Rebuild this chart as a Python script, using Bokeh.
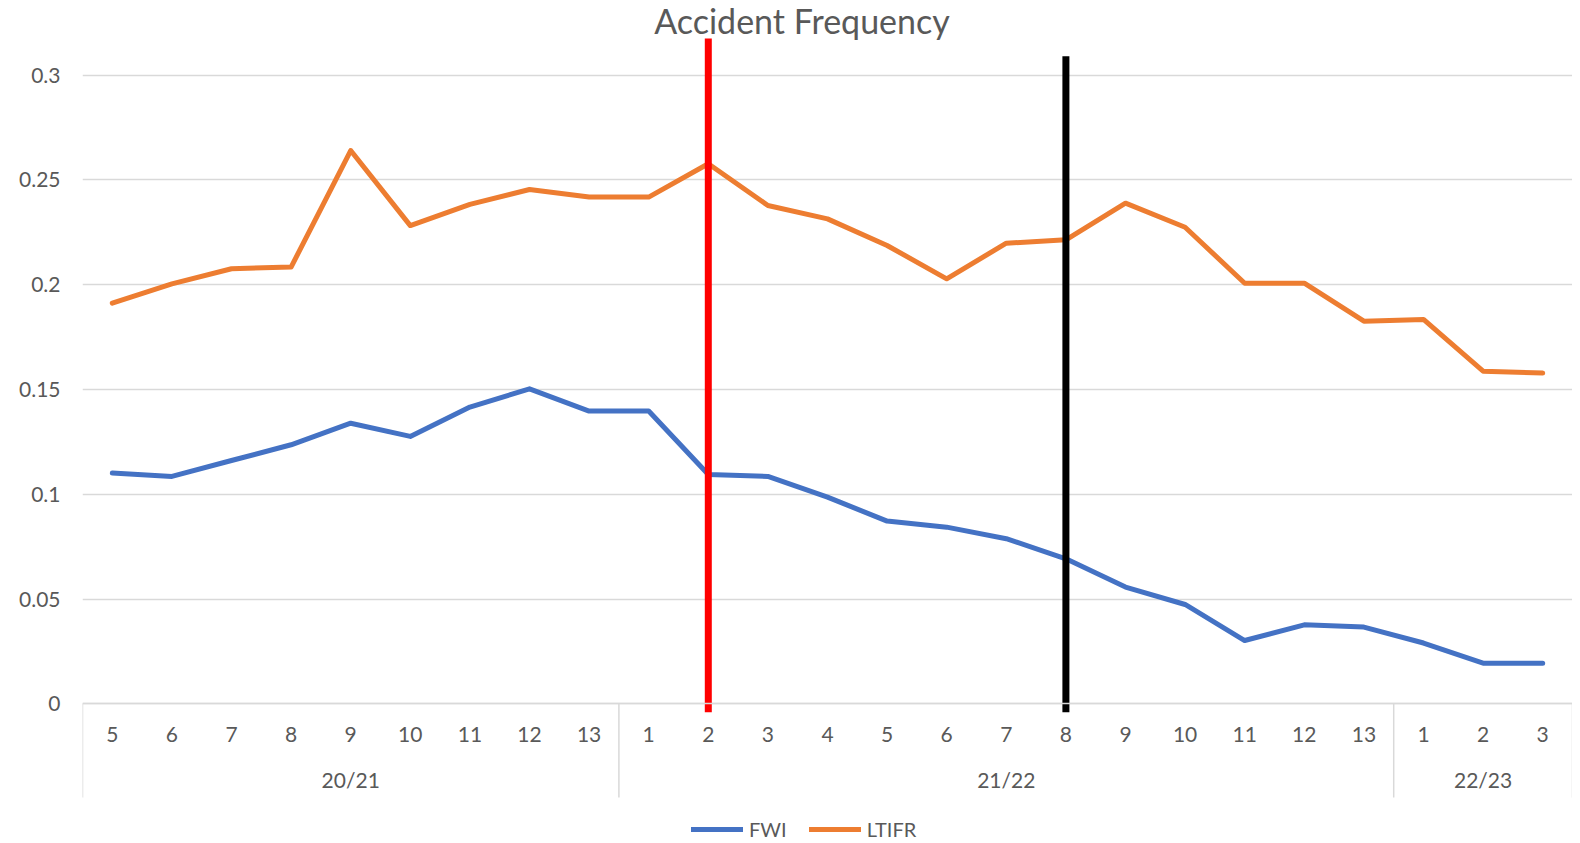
from itertools import accumulate

from bokeh.plotting import figure
from bokeh.models import (FactorRange, Range1d, CategoricalAxis, FixedTicker, Legend,
                          LegendItem, Label, ColumnDataSource)
from bokeh.embed import file_html
from bokeh.resources import INLINE

# ---------------- data ----------------
chart_title = "Accident Frequency"
groups = ["20/21", "21/22", "22/23"]
periods = [
    ["5", "6", "7", "8", "9", "10", "11", "12", "13"],
    ["1", "2", "3", "4", "5", "6", "7", "8", "9", "10", "11", "12", "13"],
    ["1", "2", "3"],
]
fwi = [0.1101, 0.1085, 0.1161, 0.1236, 0.1339, 0.1276, 0.1416, 0.1503, 0.1397,
       0.1397, 0.1094, 0.1085, 0.0986, 0.0872, 0.0843, 0.0788, 0.0692, 0.0557,
       0.0474, 0.0302, 0.0377, 0.0366,
       0.0290, 0.0194, 0.0194]
ltifr = [0.1912, 0.2004, 0.2076, 0.2084, 0.2640, 0.2282, 0.2383, 0.2454, 0.2418,
         0.2418, 0.2577, 0.2378, 0.2314, 0.2187, 0.2028, 0.2198, 0.2214, 0.2389,
         0.2274, 0.2007, 0.2007, 0.1826,
         0.1834, 0.1587, 0.1578]
series_names = ["FWI", "LTIFR"]
y_ticks = [0.0, 0.05, 0.1, 0.15, 0.2, 0.25, 0.3]
marker_factors = [("21/22", "2"), ("21/22", "8")]
marker_colors = ["#FF0000", "#000000"]
marker_tops = [0.3175, 0.309]
marker_bottom = -0.004

# ---------------- styles ----------------
FONT = "Lato"
TXT = "#595959"
GRID = "#d9d9d9"
BLUE = "#4472C4"
ORANGE = "#ED7D31"
W, H = 1572, 841

factors = [(g, p) for g, ps in zip(groups, periods) for p in ps]
bounds = [0] + list(accumulate(len(ps) for ps in periods))
sep_bottom = -0.0447

src = ColumnDataSource(data=dict(x=factors, fwi=fwi, ltifr=ltifr))

x_range = FactorRange(factors=factors, range_padding=0, group_padding=0, factor_padding=0)
p = figure(width=W, height=H, x_range=x_range, y_range=Range1d(-0.0657, 0.3356),
           output_backend="svg", toolbar_location=None, x_axis_location=None,
           min_border_left=82, min_border_right=0, min_border_top=0, min_border_bottom=0)
p.outline_line_color = None
p.background_fill_color = "white"

# y axis
p.yaxis.ticker = FixedTicker(ticks=y_ticks)
p.yaxis.major_label_overrides = {t: f"{t:g}" for t in y_ticks}
p.yaxis.axis_line_color = None
p.yaxis.major_tick_line_color = None
p.yaxis.minor_tick_line_color = None
p.yaxis.major_tick_out = 0
p.yaxis.major_tick_in = 0
p.yaxis.major_label_standoff = 22
p.yaxis.major_label_text_font = FONT
p.yaxis.major_label_text_font_size = "21px"
p.yaxis.major_label_text_color = TXT

p.ygrid.ticker = FixedTicker(ticks=y_ticks)
p.ygrid.grid_line_color = GRID
p.ygrid.grid_line_width = 1.5
p.xgrid.visible = False

# category separators (group boundaries)
p.segment(x0=bounds, y0=[0] * len(bounds), x1=bounds, y1=[sep_bottom] * len(bounds),
          line_color=GRID, line_width=1.5)

# x axes at y = 0: inner labels, then outer group labels
ax1 = CategoricalAxis(fixed_location=0, axis_line_color=GRID, axis_line_width=1.5,
                      major_tick_line_color=None, minor_tick_line_color=None,
                      major_tick_out=0, major_tick_in=0, major_label_standoff=23,
                      major_label_text_font=FONT, major_label_text_font_size="21px",
                      major_label_text_color=TXT, group_text_color=None,
                      separator_line_color=None)
ax2 = CategoricalAxis(fixed_location=0, axis_line_color=None,
                      major_tick_line_color=None, minor_tick_line_color=None,
                      major_tick_out=0, major_tick_in=0, major_label_standoff=63,
                      major_label_text_color=None,
                      group_text_font=FONT, group_text_font_size="21px",
                      group_text_font_style="normal", group_text_color=TXT,
                      separator_line_color=None)
p.add_layout(ax1, "below")
p.add_layout(ax2, "below")

r1 = p.line(x="x", y="fwi", source=src, line_color=BLUE, line_width=5,
            line_join="round", line_cap="round")
r2 = p.line(x="x", y="ltifr", source=src, line_color=ORANGE, line_width=5,
            line_join="round", line_cap="round")

# vertical marker lines
p.segment(x0=marker_factors, y0=[marker_bottom] * len(marker_factors),
          x1=marker_factors, y1=marker_tops, line_color=marker_colors, line_width=7)

# title
p.add_layout(Label(x=719.5, y=H - 20.3, x_units="screen", y_units="screen", text=chart_title,
                   text_align="center", text_baseline="alphabetic", text_font=FONT,
                   text_font_size="34px", text_color=TXT))

legend = Legend(items=[LegendItem(label=series_names[0], renderers=[r1]),
                       LegendItem(label=series_names[1], renderers=[r2])],
                orientation="horizontal", location=(609, 0), glyph_width=52,
                glyph_height=24, label_standoff=6, spacing=22, padding=0, margin=0,
                border_line_color=None, background_fill_alpha=0,
                label_text_font=FONT, label_text_font_size="20px", label_text_color=TXT)
p.add_layout(legend)

open("out.html", "w").write(file_html(p, INLINE))
